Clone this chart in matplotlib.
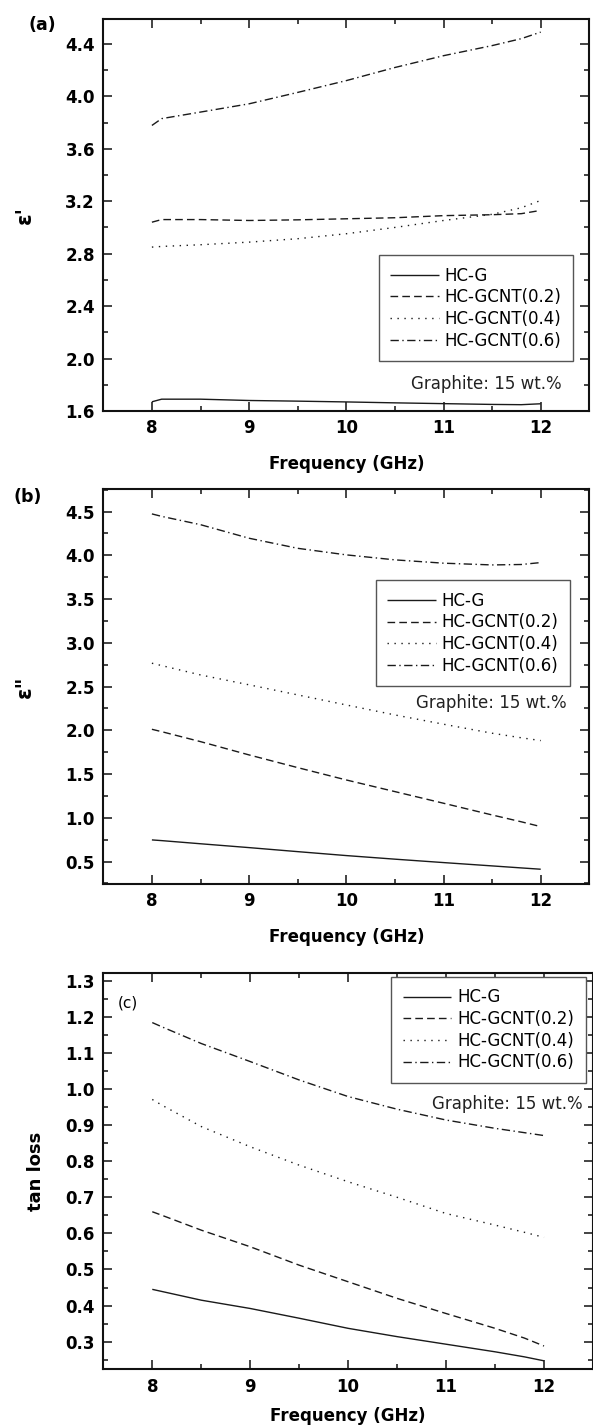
import numpy as np
import matplotlib
matplotlib.use("Agg")
import matplotlib.pyplot as plt
from matplotlib.ticker import MultipleLocator, FormatStrFormatter

plt.rcParams['font.family'] = ['DejaVu Sans']

# frequency sample points (GHz)
freq = [8.0, 8.1, 8.5, 9.0, 9.5, 10.0, 10.5, 11.0, 11.5, 11.8, 12.0]

# (a) real permittivity
eps1_hcg = [1.67, 1.69, 1.69, 1.68, 1.675, 1.669, 1.662, 1.656, 1.65, 1.648, 1.655]
eps1_02 = [3.04, 3.06, 3.06, 3.053, 3.058, 3.066, 3.074, 3.09, 3.097, 3.105, 3.13]
eps1_04 = [2.85, 2.855, 2.868, 2.888, 2.914, 2.952, 3.0, 3.053, 3.10, 3.15, 3.206]
eps1_06 = [3.778, 3.83, 3.88, 3.943, 4.03, 4.12, 4.22, 4.31, 4.387, 4.44, 4.49]

# (b) imaginary permittivity
eps2_hcg = [0.748, 0.74, 0.704, 0.66, 0.614, 0.569, 0.528, 0.489, 0.451, 0.428, 0.413]
eps2_02 = [2.012, 1.985, 1.871, 1.719, 1.574, 1.433, 1.30, 1.167, 1.033, 0.955, 0.90]
eps2_04 = [2.767, 2.74, 2.633, 2.52, 2.405, 2.29, 2.176, 2.07, 1.967, 1.915, 1.883]
eps2_06 = [4.473, 4.445, 4.35, 4.195, 4.08, 4.005, 3.948, 3.91, 3.89, 3.895, 3.917]

# (c) loss tangent
tan_hcg = [0.445, 0.439, 0.415, 0.392, 0.365, 0.337, 0.314, 0.293, 0.272, 0.258, 0.247]
tan_02 = [0.66, 0.65, 0.609, 0.563, 0.512, 0.466, 0.42, 0.378, 0.337, 0.31, 0.288]
tan_04 = [0.971, 0.955, 0.896, 0.84, 0.789, 0.743, 0.70, 0.655, 0.623, 0.603, 0.589]
tan_06 = [1.184, 1.172, 1.126, 1.076, 1.025, 0.979, 0.944, 0.914, 0.891, 0.879, 0.871]

labels = ['HC-G', 'HC-GCNT(0.2)', 'HC-GCNT(0.4)', 'HC-GCNT(0.6)']
styles = [(0, ()), (0, (5.5, 3)), (0, (1, 4)), (0, (6, 2.5, 1, 2.5))]

fig = plt.figure(figsize=(5.93, 14.28), dpi=100)

panels = [
    dict(rect=[0.1742, 0.7122, 0.8196, 0.2745], data=[eps1_hcg, eps1_02, eps1_04, eps1_06],
         ylim=(1.6, 4.59), major=0.4, minor=0.2, ylabel="ε'", ylx=-0.14, ylsize=15, xlpad=13,
         leg=(0.9665, 0.398), note=(0.944, 0.069)),
    dict(rect=[0.1742, 0.381, 0.8196, 0.2764], data=[eps2_hcg, eps2_02, eps2_04, eps2_06],
         ylim=(0.245, 4.755), major=0.5, minor=0.25, ylabel='ε"', ylx=-0.14, ylsize=15, xlpad=13,
         leg=(0.960, 0.770), note=(0.954, 0.4586)),
    dict(rect=[0.1742, 0.0411, 0.8258, 0.2777], data=[tan_hcg, tan_02, tan_04, tan_06],
         ylim=(0.2235, 1.322), major=0.1, minor=0.05, ylabel='tan loss', ylx=-0.12, ylsize=13,
         xlpad=8, leg=(0.9847, 0.990), note=(0.9786, 0.668)),
]

axes = []
for p in panels:
    ax = fig.add_axes(p['rect'])
    for y, lab, ls in zip(p['data'], labels, styles):
        ax.plot(freq, y, color='#1a1a1a', lw=1.0, linestyle=ls, label=lab)
    ax.set_xlim(7.5, 12.5)
    ax.set_ylim(*p['ylim'])
    ax.xaxis.set_major_locator(MultipleLocator(1))
    ax.xaxis.set_minor_locator(MultipleLocator(0.5))
    ax.yaxis.set_major_locator(MultipleLocator(p['major']))
    ax.yaxis.set_minor_locator(MultipleLocator(p['minor']))
    ax.yaxis.set_major_formatter(FormatStrFormatter('%.1f'))
    ax.tick_params(which='both', direction='in', top=True, right=True, width=1.1, color='#111')
    ax.tick_params(which='major', length=6.5, pad=6.0, labelsize=12)
    ax.tick_params(which='minor', length=3.6)
    for t in ax.get_xticklabels() + ax.get_yticklabels():
        t.set_fontweight('bold')
    for s in ax.spines.values():
        s.set_linewidth(1.5)
        s.set_color('#111')
    ax.set_xlabel('Frequency (GHz)', fontsize=12, fontweight='bold', labelpad=p['xlpad'])
    ax.set_ylabel(p['ylabel'], fontsize=p['ylsize'], fontweight='bold')
    ax.yaxis.set_label_coords(p['ylx'], 0.5)
    leg = ax.legend(loc='upper right', bbox_to_anchor=p['leg'], borderaxespad=0,
                    fontsize=12, handlelength=2.9, handletextpad=0.35, labelspacing=0.22,
                    borderpad=0.7, fancybox=False, framealpha=1)
    leg.get_frame().set_edgecolor('#555')
    leg.get_frame().set_linewidth(1.0)
    ax.text(p['note'][0], p['note'][1], 'Graphite: 15 wt.%', transform=ax.transAxes,
            ha='right', va='center', fontsize=12, color='#222')
    axes.append(ax)

axes[2].text(0.05, 0.923, '(c)', transform=axes[2].transAxes, ha='center', va='center', fontsize=11)
fig.text(42.5 / 593, 1 - 25 / 1428, '(a)', ha='center', va='center', fontsize=12.5, fontweight='bold')
fig.text(28 / 593, 1 - 496.7 / 1428, '(b)', ha='center', va='center', fontsize=12.5, fontweight='bold')

fig.savefig('out.png', dpi=100)
